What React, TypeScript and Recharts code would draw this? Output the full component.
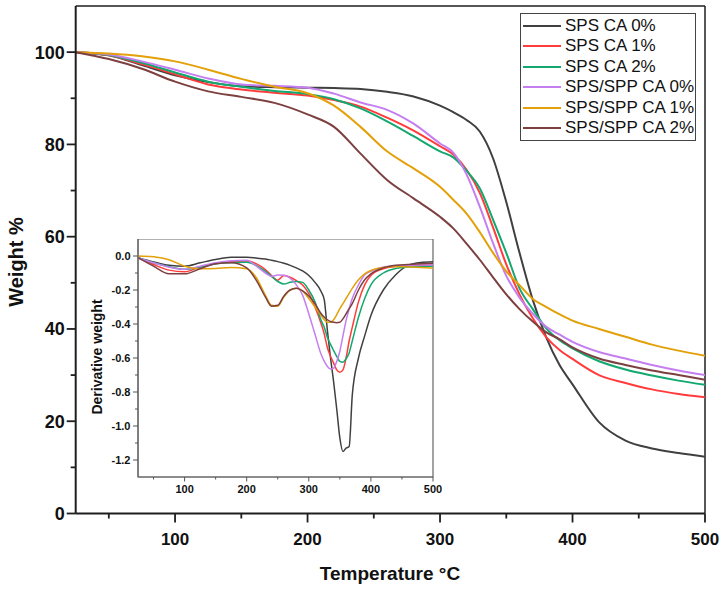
import React from 'react';
import { LineChart, Line, XAxis, YAxis, ReferenceLine, ReferenceArea, Legend, Label } from 'recharts';

// ---------- main TGA data ----------
const temperature = [25, 50, 75, 100, 125, 150, 175, 200, 220, 240, 260, 280, 300, 310, 320, 330, 340, 350, 360, 370, 380, 390, 400, 420, 440, 460, 480, 500];
const spsCa0 = [100, 99.3, 97.2, 95.0, 93.5, 92.6, 92.4, 92.3, 92.2, 92.0, 91.4, 90.4, 88.4, 87.0, 85.3, 82.8, 77.0, 67.5, 56.5, 46.3, 38.3, 32.3, 28.0, 19.8, 15.8, 14.1, 13.1, 12.3];
const spsCa1 = [100, 99.3, 97.4, 95.2, 93.0, 91.9, 91.2, 90.6, 89.6, 88.2, 85.8, 83.0, 79.6, 77.8, 74.5, 69.5, 62.0, 54.0, 47.5, 42.3, 38.3, 35.5, 33.5, 30.0, 28.3, 26.9, 25.9, 25.2];
const spsCa2 = [100, 99.4, 97.7, 95.6, 93.6, 92.5, 91.6, 90.9, 89.8, 87.8, 85.0, 81.8, 78.5, 77.2, 74.3, 70.5, 63.7, 56.5, 48.8, 44.3, 40.2, 37.6, 35.8, 33.0, 31.2, 29.9, 28.8, 27.9];
const sppCa0 = [100, 99.5, 98.0, 96.2, 94.3, 93.0, 92.7, 92.3, 91.0, 89.1, 87.5, 84.5, 80.2, 78.2, 73.5, 66.5, 58.6, 51.5, 46.8, 43.3, 40.5, 38.8, 37.2, 35.0, 33.6, 32.2, 31.0, 30.0];
const sppCa1 = [100, 99.7, 99.1, 98.0, 96.2, 94.2, 92.5, 91.1, 88.4, 83.8, 78.5, 74.8, 70.8, 68.0, 65.0, 61.0, 56.5, 52.5, 49.5, 46.5, 44.8, 43.2, 41.8, 40.0, 38.3, 36.6, 35.3, 34.2];
const sppCa2 = [100, 98.5, 96.4, 93.6, 91.5, 90.3, 89.0, 86.5, 83.8, 78.0, 72.3, 68.3, 64.3, 61.8, 58.5, 55.0, 51.2, 47.5, 44.3, 41.6, 39.3, 37.8, 36.0, 33.6, 32.2, 31.0, 30.0, 29.0];

// ---------- inset DTG data ----------
const insetTemperature = [25, 50, 75, 100, 125, 150, 175, 200, 215, 230, 240, 250, 260, 270, 280, 290, 300, 310, 320, 325, 330, 335, 340, 345, 350, 355, 360, 365, 370, 380, 390, 400, 420, 440, 460, 480, 500];
const dtgSpsCa0 = [-0.01, -0.035, -0.055, -0.06, -0.04, -0.02, -0.008, -0.008, -0.012, -0.018, -0.025, -0.033, -0.043, -0.055, -0.07, -0.088, -0.115, -0.155, -0.21, -0.26, -0.44, -0.6, -0.74, -0.9, -1.07, -1.15, -1.13, -1.12, -0.82, -0.6, -0.47, -0.35, -0.2, -0.11, -0.055, -0.038, -0.034];
const dtgSpsCa1 = [-0.01, -0.05, -0.083, -0.093, -0.065, -0.045, -0.032, -0.03, -0.045, -0.08, -0.115, -0.142, -0.115, -0.125, -0.145, -0.17, -0.22, -0.3, -0.4, -0.46, -0.54, -0.59, -0.63, -0.67, -0.684, -0.67, -0.6, -0.5, -0.42, -0.27, -0.17, -0.115, -0.075, -0.062, -0.057, -0.055, -0.053];
const dtgSpsCa2 = [-0.01, -0.04, -0.063, -0.078, -0.065, -0.045, -0.038, -0.037, -0.055, -0.09, -0.12, -0.15, -0.165, -0.155, -0.15, -0.155, -0.2, -0.27, -0.38, -0.42, -0.48, -0.52, -0.556, -0.59, -0.62, -0.625, -0.605, -0.57, -0.5, -0.36, -0.25, -0.17, -0.1, -0.073, -0.065, -0.062, -0.06];
const dtgSppCa0 = [-0.01, -0.04, -0.065, -0.078, -0.06, -0.04, -0.028, -0.025, -0.058, -0.1, -0.12, -0.112, -0.113, -0.13, -0.17, -0.23, -0.34, -0.46, -0.58, -0.62, -0.65, -0.665, -0.66, -0.62, -0.56, -0.47, -0.38, -0.31, -0.25, -0.17, -0.11, -0.09, -0.065, -0.058, -0.055, -0.053, -0.053];
const dtgSppCa1 = [0.0, -0.005, -0.022, -0.06, -0.075, -0.073, -0.068, -0.075, -0.125, -0.23, -0.29, -0.295, -0.24, -0.2, -0.19, -0.205, -0.25, -0.3, -0.35, -0.375, -0.39, -0.39, -0.375, -0.345, -0.31, -0.28, -0.25, -0.22, -0.19, -0.14, -0.105, -0.085, -0.068, -0.062, -0.065, -0.068, -0.072];
const dtgSppCa2 = [-0.01, -0.06, -0.105, -0.105, -0.075, -0.045, -0.04, -0.07, -0.14, -0.24, -0.295, -0.29, -0.235, -0.2, -0.19, -0.205, -0.235, -0.28, -0.34, -0.36, -0.375, -0.385, -0.39, -0.392, -0.39, -0.37, -0.34, -0.31, -0.28, -0.2, -0.14, -0.105, -0.07, -0.055, -0.05, -0.046, -0.043];

// ---------- labels / ticks ----------
const seriesNames = ['SPS CA 0%', 'SPS CA 1%', 'SPS CA 2%', 'SPS/SPP CA 0%', 'SPS/SPP CA 1%', 'SPS/SPP CA 2%'];
const seriesKeys = ['s0', 's1', 's2', 'p0', 'p1', 'p2'];
const seriesColors = ['#404040', '#ff3b3b', '#12a870', '#c57ef0', '#e3a008', '#7d4040'];

const mainXTicks = [50, 100, 150, 200, 250, 300, 350, 400, 450, 500];
const mainYTicks = [0, 10, 20, 30, 40, 50, 60, 70, 80, 90, 100];
const insetXTicks = [50, 100, 150, 200, 250, 300, 350, 400, 450, 500];
const insetYTicks = [-1.2, -1.1, -1.0, -0.9, -0.8, -0.7, -0.6, -0.5, -0.4, -0.3, -0.2, -0.1, 0.0];

const mainData = temperature.map((t, i) => ({
  t, s0: spsCa0[i], s1: spsCa1[i], s2: spsCa2[i], p0: sppCa0[i], p1: sppCa1[i], p2: sppCa2[i],
}));
const insetData = insetTemperature.map((t, i) => ({
  t, s0: dtgSpsCa0[i], s1: dtgSpsCa1[i], s2: dtgSpsCa2[i], p0: dtgSppCa0[i], p1: dtgSppCa1[i], p2: dtgSppCa2[i],
}));

const FONT = '"Liberation Sans", Arial, Helvetica, sans-serif';
const AXIS = '#1e1e1e';

const MainXTick = (props: any) => {
  const { x, y, payload } = props;
  const major = payload.value % 100 === 0;
  return (
    <g>
      <line x1={x} x2={x} y1={y} y2={y + (major ? 9 : 5)} stroke={AXIS} strokeWidth={1.8} />
      {major && (
        <text x={x} y={y + 31.5} textAnchor="middle" fontFamily={FONT} fontWeight="bold" fontSize={17} fill="#111">
          {payload.value}
        </text>
      )}
    </g>
  );
};

const MainYTick = (props: any) => {
  const { x, y, payload } = props;
  const major = payload.value % 20 === 0;
  return (
    <g>
      <line x1={x - (major ? 9 : 5)} x2={x} y1={y} y2={y} stroke={AXIS} strokeWidth={1.8} />
      {major && (
        <text x={x - 11} y={y} dy="0.36em" textAnchor="end" fontFamily={FONT} fontWeight="bold" fontSize={18} fill="#111">
          {payload.value}
        </text>
      )}
    </g>
  );
};

const InsetXTick = (props: any) => {
  const { x, y, payload } = props;
  const major = payload.value % 100 === 0;
  return (
    <g>
      <line x1={x} x2={x} y1={y} y2={y + (major ? 4.5 : 2.5)} stroke="#555" strokeWidth={1} />
      {major && (
        <text x={x} y={y + 15.5} textAnchor="middle" fontFamily={FONT} fontWeight="bold" fontSize={11} fill="#111">
          {payload.value}
        </text>
      )}
    </g>
  );
};

const InsetYTick = (props: any) => {
  const { x, y, payload } = props;
  const v = Math.round(payload.value * 10);
  const major = v % 2 === 0;
  return (
    <g>
      <line x1={x - (major ? 5 : 3)} x2={x} y1={y} y2={y} stroke="#555" strokeWidth={1} />
      {major && (
        <text x={x - 7.5} y={y} dy="0.36em" textAnchor="end" fontFamily={FONT} fontWeight="bold" fontSize={11} fill="#111">
          {(v / 10).toFixed(1)}
        </text>
      )}
    </g>
  );
};

const renderLegend = () => (
  <div
    style={{
      border: '1.5px solid #444',
      background: '#fff',
      width: 176,
      height: 128,
      boxSizing: 'border-box',
      paddingTop: 2,
      paddingLeft: 2,
      fontFamily: FONT,
      fontSize: 17,
      color: '#111',
    }}
  >
    {seriesNames.map((n, i) => (
      <div key={n} style={{ display: 'flex', alignItems: 'center', height: 20.5, whiteSpace: 'nowrap' }}>
        <svg width={38} height={4} style={{ display: 'block' }}>
          <line x1={0} x2={38} y1={2} y2={2} stroke={seriesColors[i]} strokeWidth={2} />
        </svg>
        <span style={{ marginLeft: 4, lineHeight: '20px' }}>{n}</span>
      </div>
    ))}
  </div>
);

export default function App() {
  return (
    <div style={{ position: 'fixed', left: 0, top: 0, width: 725, height: 589, background: '#fff' }}>
      <div style={{ position: 'absolute', left: 0, top: 0 }}>
        <LineChart width={725} height={589} data={mainData} margin={{ top: 6, right: 20, left: 0, bottom: 0 }}>
          <XAxis
            dataKey="t"
            type="number"
            domain={[25, 500]}
            ticks={mainXTicks}
            interval={0}
            tick={<MainXTick />}
            tickLine={false}
            tickSize={0}
            tickMargin={0}
            height={75.5}
            axisLine={{ stroke: AXIS, strokeWidth: 2 }}
            allowDataOverflow
          >
            <Label
              content={() => (
                <text x={390} y={580} textAnchor="middle" fontFamily={FONT} fontWeight="bold" fontSize={19} fill="#111">
                  Temperature °C
                </text>
              )}
            />
          </XAxis>
          <YAxis
            type="number"
            domain={[0, 110]}
            ticks={mainYTicks}
            interval={0}
            tick={<MainYTick />}
            tickLine={false}
            tickSize={0}
            tickMargin={0}
            width={75.7}
            axisLine={{ stroke: AXIS, strokeWidth: 2 }}
            allowDataOverflow
          >
            <Label
              content={() => (
                <text
                  x={16}
                  y={262}
                  transform="rotate(-90 16 262)"
                  dy="0.36em"
                  textAnchor="middle"
                  fontFamily={FONT}
                  fontWeight="bold"
                  fontSize={20}
                  fill="#111"
                >
                  Weight %
                </text>
              )}
            />
          </YAxis>
          <ReferenceLine y={110} stroke={AXIS} strokeWidth={1.5} />
          <ReferenceLine x={500} stroke={AXIS} strokeWidth={1.5} />
          {seriesKeys.map((k, i) => (
            <Line
              key={k}
              dataKey={k}
              name={seriesNames[i]}
              type="monotone"
              stroke={seriesColors[i]}
              strokeWidth={2}
              dot={false}
              isAnimationActive={false}
            />
          ))}
          <Legend
            layout="vertical"
            align="center"
            verticalAlign="middle"
            content={renderLegend}
            wrapperStyle={{ left: 520, top: 12.5, width: 176, height: 128 }}
          />
        </LineChart>
      </div>

      <div style={{ position: 'absolute', left: 82.5, top: 239 }}>
        <LineChart width={365} height={263} data={insetData} margin={{ top: 0, right: 15, left: 0, bottom: 0 }}>
          <ReferenceArea x1={25} x2={500} y1={-1.3} y2={0.1} fill="#fff" fillOpacity={1} stroke="#666" strokeWidth={1.2} />
          <XAxis
            dataKey="t"
            type="number"
            domain={[25, 500]}
            ticks={insetXTicks}
            interval={0}
            tick={<InsetXTick />}
            tickLine={false}
            tickSize={0}
            tickMargin={0}
            height={25}
            axisLine={{ stroke: '#666', strokeWidth: 1.2 }}
            allowDataOverflow
          />
          <YAxis
            type="number"
            domain={[-1.3, 0.1]}
            ticks={insetYTicks}
            interval={0}
            tick={<InsetYTick />}
            tickLine={false}
            tickSize={0}
            tickMargin={0}
            width={55}
            axisLine={{ stroke: '#666', strokeWidth: 1.2 }}
            allowDataOverflow
          >
            <Label
              content={() => (
                <text
                  x={14}
                  y={118}
                  transform="rotate(-90 14 118)"
                  dy="0.36em"
                  textAnchor="middle"
                  fontFamily={FONT}
                  fontWeight="bold"
                  fontSize={14}
                  fill="#111"
                >
                  Derivative weight
                </text>
              )}
            />
          </YAxis>
          {seriesKeys.map((k, i) => (
            <Line
              key={k}
              dataKey={k}
              name={seriesNames[i]}
              type="monotone"
              stroke={seriesColors[i]}
              strokeWidth={1.5}
              dot={false}
              isAnimationActive={false}
            />
          ))}
        </LineChart>
      </div>
    </div>
  );
}
